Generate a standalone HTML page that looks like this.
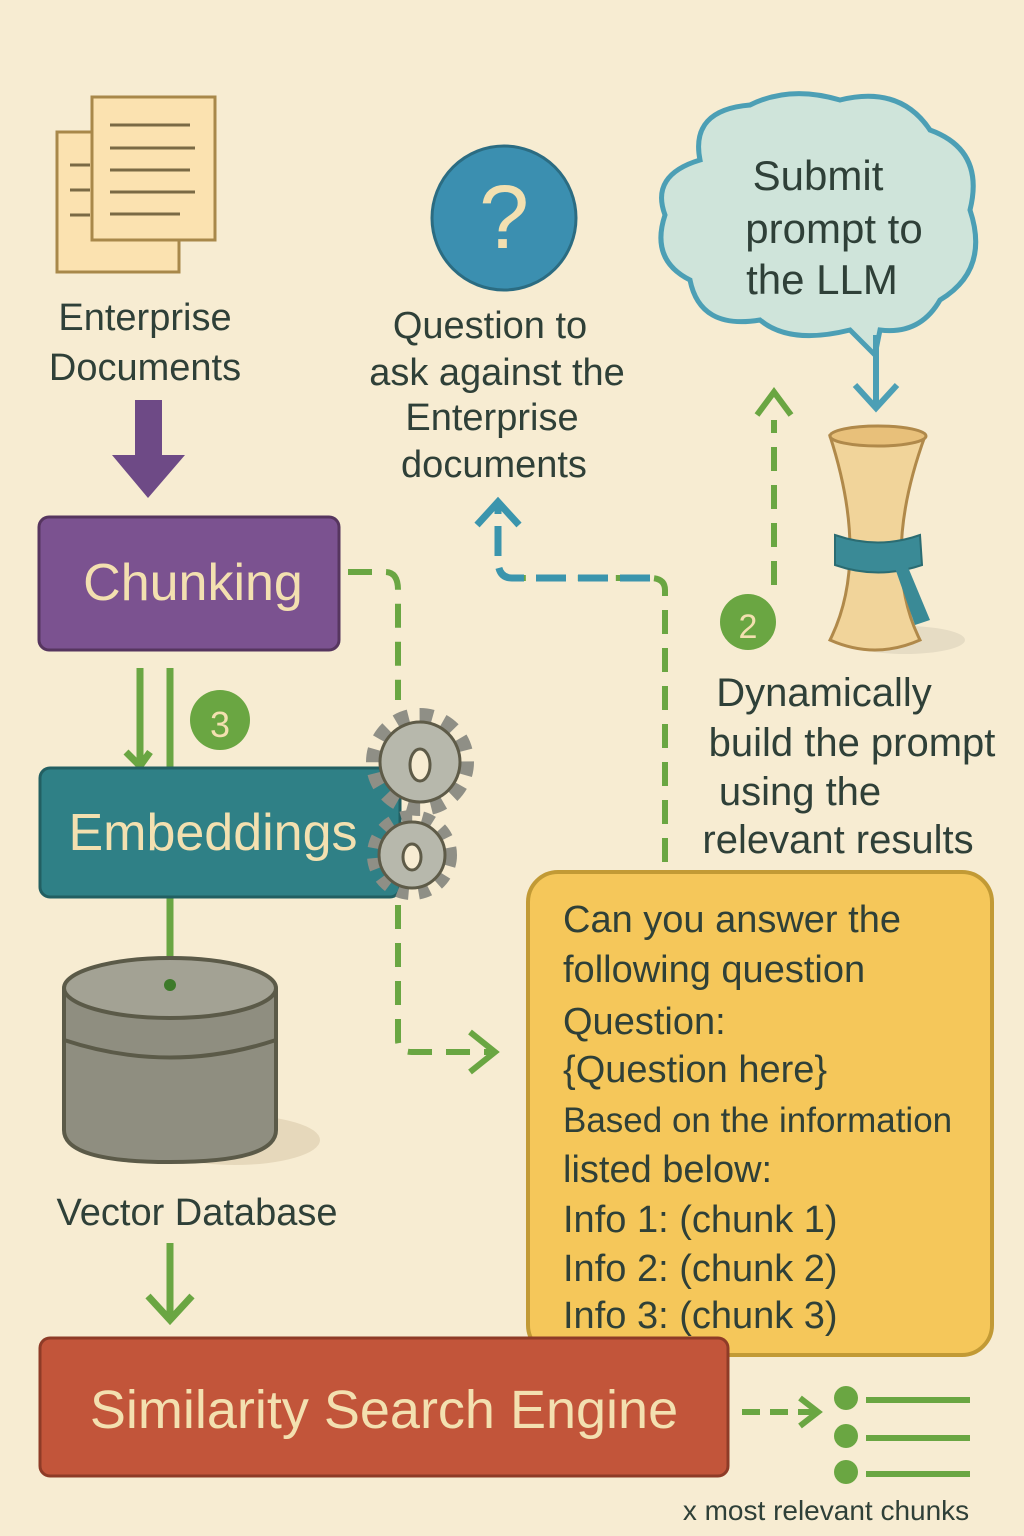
<!DOCTYPE html>
<html><head><meta charset="utf-8"><style>
html,body{margin:0;padding:0;background:#f7ecd2;}
svg{display:block}
text{font-family:"Liberation Sans","DejaVu Sans",sans-serif;fill:#2f4038}
</style></head><body>
<svg width="1024" height="1536" viewBox="0 0 1024 1536" xmlns="http://www.w3.org/2000/svg">
<rect width="1024" height="1536" fill="#f7ecd2"/>
<!-- documents -->
<rect x="57" y="132" width="122" height="140" fill="#fbe2b0" stroke="#a8884a" stroke-width="3"/>
<rect x="92" y="97" width="123" height="143" fill="#fbe2b0" stroke="#a8884a" stroke-width="3"/>
<g stroke="#7a6a45" stroke-width="3">
<line x1="110" y1="125" x2="190" y2="125"/><line x1="110" y1="148" x2="195" y2="148"/><line x1="110" y1="170" x2="190" y2="170"/><line x1="110" y1="192" x2="195" y2="192"/><line x1="110" y1="214" x2="180" y2="214"/>
<line x1="70" y1="165" x2="90" y2="165"/><line x1="70" y1="190" x2="90" y2="190"/><line x1="70" y1="215" x2="90" y2="215"/></g>
<text x="145" y="330" font-size="38" text-anchor="middle">Enterprise</text>
<text x="145" y="380" font-size="38" text-anchor="middle">Documents</text>
<!-- purple arrow -->
<polygon points="135,400 162,400 162,455 185,455 148,498 112,455 135,455" fill="#6e4a86"/>
<!-- Chunking -->
<rect x="39" y="517" width="300" height="133" rx="10" fill="#7b5290" stroke="#56355f" stroke-width="3"/>
<text x="193" y="600" font-size="52" text-anchor="middle" style="fill:#f3e0b0">Chunking</text>
<!-- green lines chunk->embed -->
<g stroke="#6aa642" stroke-width="7" fill="none">
<line x1="140" y1="668" x2="140" y2="765"/><line x1="170" y1="668" x2="170" y2="768"/>
<polyline points="126,752 140,766 150,752"/>
<line x1="170" y1="898" x2="170" y2="965"/>
<line x1="170" y1="1243" x2="170" y2="1318"/><polyline points="148,1296 170,1320 192,1296"/>
</g>
<circle cx="220" cy="720" r="30" fill="#6aa642"/>
<text x="220" y="737" font-size="36" text-anchor="middle" style="fill:#f3e0b0">3</text>
<!-- Embeddings -->
<rect x="40" y="768" width="360" height="129" rx="10" fill="#2f8086" stroke="#225f62" stroke-width="3"/>
<text x="213" y="850" font-size="52" text-anchor="middle" style="fill:#f3e0b0">Embeddings</text>
<!-- gears -->
<g fill="#b7b8ac" stroke="#5e5b48" stroke-width="3">
<circle cx="420" cy="762" r="46" fill="none" stroke="#8f8f86" stroke-width="16" stroke-dasharray="13 11"/>
<circle cx="420" cy="762" r="40"/>
<ellipse cx="420" cy="765" rx="10" ry="16" fill="#f7ecd2"/>
<circle cx="412" cy="855" r="38" fill="none" stroke="#8f8f86" stroke-width="14" stroke-dasharray="11 10"/>
<circle cx="412" cy="855" r="33"/>
<ellipse cx="412" cy="857" rx="9" ry="13" fill="#f7ecd2"/>
</g>
<!-- dashed green from chunking to yellow -->
<g stroke="#6aa642" stroke-width="6" fill="none" stroke-dasharray="24 14">
<path d="M348,572 H385 Q398,572 398,590 V700"/>
<path d="M398,905 V1040 Q398,1052 412,1052 H490"/>
<path d="M665,862 V590 Q665,578 650,578 H512"/>
<path d="M774,585 V420"/>
</g>
<polyline points="470,1032 495,1052 470,1072" stroke="#6aa642" stroke-width="6" fill="none"/>
<polyline points="757,415 774,392 791,415" stroke="#6aa642" stroke-width="6" fill="none"/>
<!-- teal arrow to question -->
<path d="M650,578 H512 Q498,578 498,560 V505" stroke="#3b95ad" stroke-width="7" fill="none" stroke-dasharray="30 12"/>
<polyline points="477,525 498,502 519,525" stroke="#3b95ad" stroke-width="7" fill="none"/>
<!-- question circle -->
<circle cx="504" cy="218" r="72" fill="#3b8fb0" stroke="#2b6c82" stroke-width="3"/>
<text x="504" y="248" font-size="90" text-anchor="middle" style="fill:#f3e0b0">?</text>
<text x="490" y="338" font-size="38" text-anchor="middle">Question to</text>
<text x="497" y="385" font-size="38" text-anchor="middle">ask against the</text>
<text x="492" y="430" font-size="38" text-anchor="middle">Enterprise</text>
<text x="494" y="477" font-size="38" text-anchor="middle">documents</text>
<!-- cloud -->
<path d="M700,160 Q690,110 750,105 Q790,85 840,100 Q900,85 930,130 Q985,150 970,210 Q990,270 940,300 Q920,335 880,330 L875,355 L850,330 Q790,345 760,320 Q700,330 690,280 Q650,260 665,215 Q650,175 700,160Z" fill="#cfe4da" stroke="#4c9fb5" stroke-width="5"/>
<text x="818" y="190" font-size="42" text-anchor="middle">Submit</text>
<text x="834" y="243" font-size="42" text-anchor="middle">prompt to</text>
<text x="822" y="294" font-size="42" text-anchor="middle">the LLM</text>
<line x1="876" y1="335" x2="876" y2="405" stroke="#4c9fb5" stroke-width="6"/>
<polyline points="855,385 876,408 897,385" stroke="#4c9fb5" stroke-width="6" fill="none"/>
<!-- scroll -->
<ellipse cx="905" cy="640" rx="60" ry="14" fill="#e6dcc4"/>
<path d="M830,436 Q870,560 830,640 Q875,660 920,640 Q880,560 925,436Z" fill="#f1d49a" stroke="#b0894a" stroke-width="3"/>
<ellipse cx="878" cy="436" rx="48" ry="10" fill="#e8c07a" stroke="#b0894a" stroke-width="3"/>
<path d="M835,535 Q878,550 920,535 L922,565 Q878,580 835,565Z" fill="#3a8a96" stroke="#2b6c72" stroke-width="2"/>
<path d="M905,560 L930,620 L915,625 L895,568Z" fill="#3a8a96"/>
<circle cx="748" cy="622" r="28" fill="#6aa642"/>
<text x="748" y="638" font-size="34" text-anchor="middle" style="fill:#f3e0b0">2</text>
<text x="824" y="706" font-size="40" text-anchor="middle">Dynamically</text>
<text x="852" y="756" font-size="40" text-anchor="middle">build the prompt</text>
<text x="800" y="805" font-size="40" text-anchor="middle">using the</text>
<text x="838" y="853" font-size="40" text-anchor="middle">relevant results</text>
<!-- db -->
<ellipse cx="235" cy="1140" rx="85" ry="25" fill="#e6d8bb"/>
<path d="M64,990 V1130 Q64,1162 170,1162 Q276,1162 276,1130 V990Z" fill="#8f8e80" stroke="#5b5a48" stroke-width="4"/>
<path d="M64,1040 Q170,1075 276,1040" fill="none" stroke="#5b5a48" stroke-width="4"/>
<ellipse cx="170" cy="988" rx="106" ry="30" fill="#a3a294" stroke="#5b5a48" stroke-width="4"/>
<circle cx="170" cy="985" r="6" fill="#3d7a2a"/>
<text x="197" y="1225" font-size="38" text-anchor="middle">Vector Database</text>
<!-- yellow box -->
<rect x="528" y="872" width="464" height="483" rx="30" fill="#f5c75a" stroke="#c29a35" stroke-width="4"/>
<g font-size="38">
<text x="563" y="932">Can you answer the</text>
<text x="563" y="982">following question</text>
<text x="563" y="1034">Question:</text>
<text x="563" y="1082">{Question here}</text>
<text x="563" y="1132" font-size="35">Based on the information</text>
<text x="563" y="1182">listed below:</text>
<text x="563" y="1232">Info 1: (chunk 1)</text>
<text x="563" y="1281">Info 2: (chunk 2)</text>
<text x="563" y="1328">Info 3: (chunk 3)</text>
</g>
<!-- similarity -->
<rect x="40" y="1338" width="688" height="138" rx="10" fill="#c2553a" stroke="#8e3b27" stroke-width="3"/>
<text x="384" y="1428" font-size="54" text-anchor="middle" style="fill:#f3e0b0">Similarity Search Engine</text>
<g stroke="#6aa642" stroke-width="6" fill="none">
<line x1="742" y1="1412" x2="815" y2="1412" stroke-dasharray="18 10"/>
<polyline points="800,1398 818,1412 800,1426"/>
<line x1="866" y1="1400" x2="970" y2="1400"/><line x1="866" y1="1438" x2="970" y2="1438"/><line x1="866" y1="1474" x2="970" y2="1474"/>
</g>
<g fill="#6aa642"><circle cx="846" cy="1398" r="12"/><circle cx="846" cy="1436" r="12"/><circle cx="846" cy="1472" r="12"/></g>
<text x="826" y="1520" font-size="28" text-anchor="middle">x most relevant chunks</text>
</svg>
</body></html>
